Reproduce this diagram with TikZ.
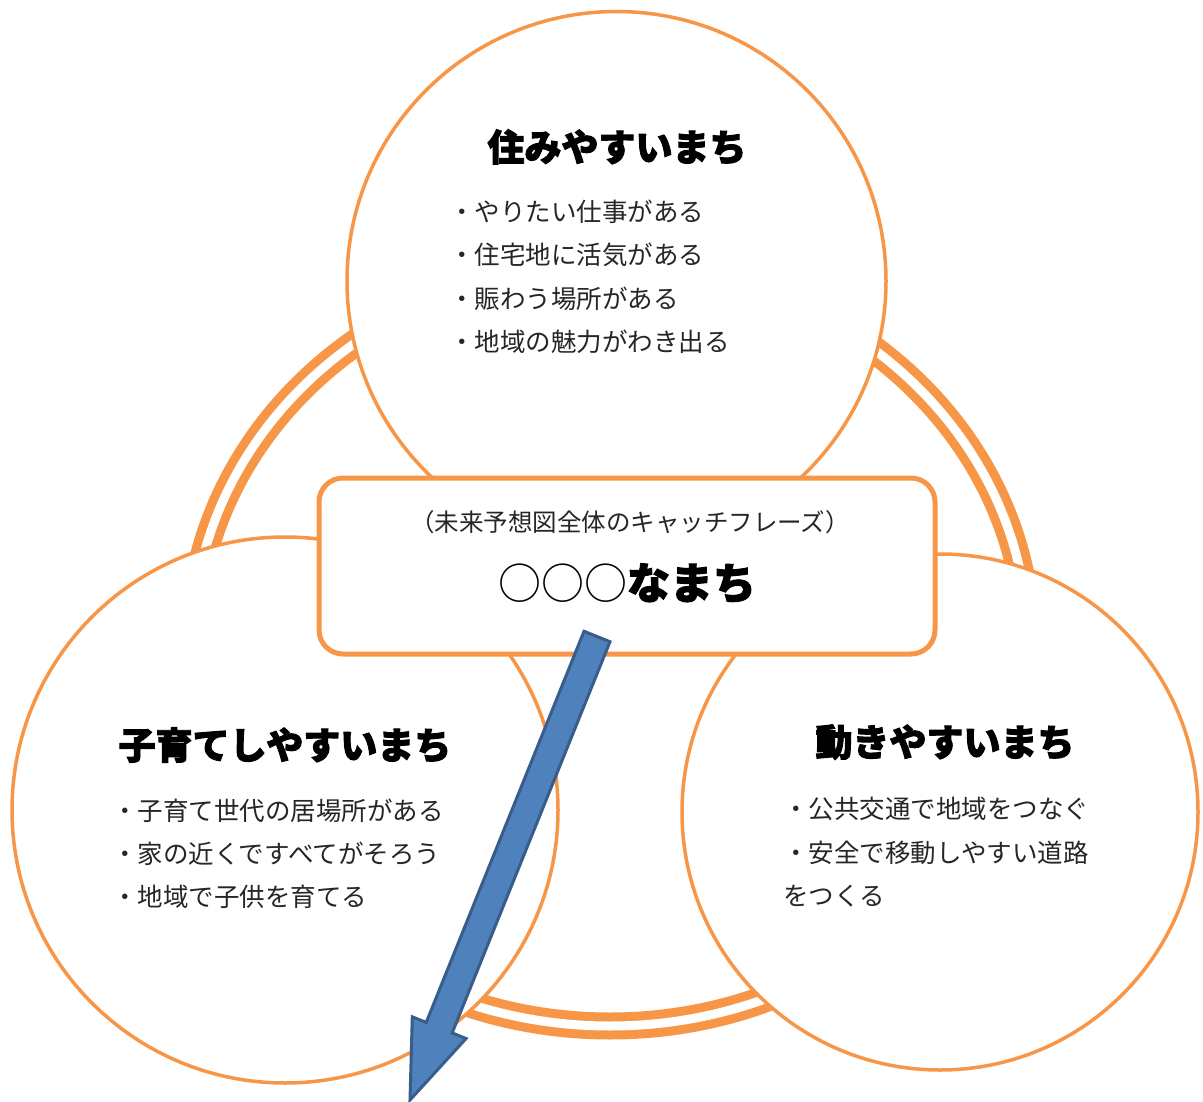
\documentclass[tikz,border=0pt]{standalone}
\usepackage{fontspec}
\newfontfamily\jp{Noto Sans CJK JP}
\newfontfamily\jpheavy{Noto Sans CJK JP}[BoldFeatures={FakeBold=2.5}]
\usetikzlibrary{calc}
\definecolor{orng}{HTML}{F79646}
\definecolor{arrowfill}{HTML}{4F81BD}
\definecolor{arrowline}{HTML}{385D8A}
\definecolor{bodytext}{HTML}{262626}
\begin{document}
\begin{tikzpicture}[x=1pt,y=-1pt,
  ring/.style={draw=orng, line width=9pt, double=white, double distance=9pt},
  bigcircle/.style={circle, draw=orng, line width=3.5pt, fill=white, inner sep=0pt},
  catchbox/.style={draw=orng, line width=5pt, fill=white, rounded corners=24pt, inner sep=0pt},
  heading/.style={font=\jpheavy\bfseries\fontsize{37}{37}\selectfont, anchor=base, inner sep=0pt},
  item/.style={font=\jp\fontsize{25.5}{30}\selectfont, anchor=base west, inner sep=0pt, text=bodytext},
  caption/.style={font=\jp\fontsize{24.5}{28}\selectfont, anchor=base, inner sep=0pt, text=bodytext},
  catchtext/.style={font=\jpheavy\bfseries\fontsize{43}{43}\selectfont, anchor=base, inner sep=0pt},
  blockarrow/.style={fill=arrowfill, draw=arrowline, line width=3pt, line join=miter}
]
\useasboundingbox (0,0) rectangle (1203,1102);
% background double ring
\draw[ring] (610,645) ellipse [x radius=418pt, y radius=381pt];
% three circles
\node[bigcircle, minimum size=539pt] (sumu) at (616.5,281) {};
\node[bigcircle, minimum size=546pt] (kosodate) at (285,810) {};
\node[bigcircle, minimum size=516pt] (ugoki) at (940,812) {};
% central box
\node[catchbox, minimum width=616pt, minimum height=176pt] (catch) at (627,566) {};
% top circle texts
\node[heading] (sumuh) at (617,161) {住みやすいまち};
\node[item] (s1) at (449,221.5) {・やりたい仕事がある};
\node[item] (s2) at (449,265) {・住宅地に活気がある};
\node[item] (s3) at (449,308.5) {・賑わう場所がある};
\node[item] (s4) at (449,352) {・地域の魅力がわき出る};
% left circle texts
\node[heading] (kosoh) at (285,759) {子育てしやすいまち};
\node[item] (k1) at (112,820) {・子育て世代の居場所がある};
\node[item] (k2) at (112,863) {・家の近くですべてがそろう};
\node[item] (k3) at (112,906) {・地域で子供を育てる};
% right circle texts
\node[heading] (ugokih) at (945,756) {動きやすいまち};
\node[item] (u1) at (783,818) {・公共交通で地域をつなぐ};
\node[item] (u2) at (783,862) {・安全で移動しやすい道路};
\node[item] (u3) at (783,905) {をつくる};
% box texts
\node[caption] (capt) at (630,531) {（未来予想図全体のキャッチフレーズ）};
\node[catchtext] (catchphrase) at (627,599) {{\jp\mdseries ○○○}なまち};
% block arrow
\coordinate (atail) at ($(catch.south)+(-30,-20)$);
\coordinate (atip) at (410,1100);
\coordinate (abase) at ($(atip)!78pt!(atail)$);
\draw[blockarrow]
  ($(atail)!14pt!90:(atip)$) -- ($(abase)!14pt!-90:(atail)$) --
  ($(abase)!29pt!-90:(atail)$) -- (atip) --
  ($(abase)!29pt!90:(atail)$) -- ($(abase)!14pt!90:(atail)$) --
  ($(atail)!14pt!-90:(atip)$) -- cycle;
\end{tikzpicture}
\end{document}
